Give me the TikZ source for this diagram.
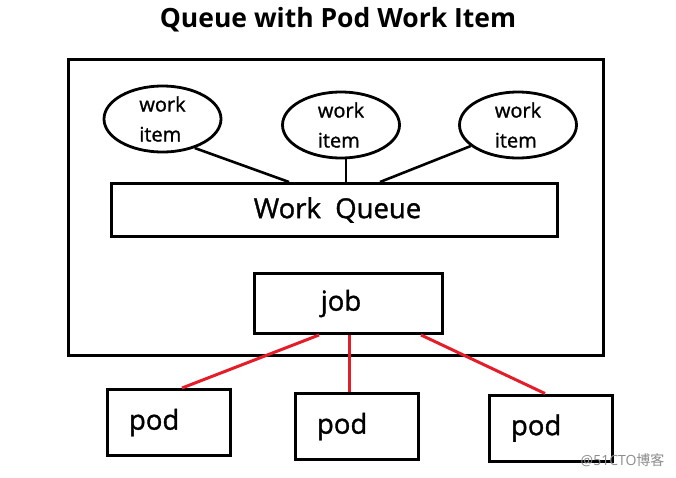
\documentclass[tikz,border=0pt]{standalone}
\usepackage{fontspec}
\setmainfont{Open Sans}
\newfontfamily\medfont[FakeBold=1.2]{Open Sans}
\newfontfamily\cjkfont{Noto Sans CJK SC}
\usetikzlibrary{shapes.geometric}
\definecolor{redline}{RGB}{228,30,40}
\definecolor{wmgrey}{RGB}{140,140,140}
\tikzset{
  thickbox/.style={draw=black, line width=3pt, rectangle, inner sep=0pt},
  itemell/.style={draw=black, line width=2.8pt, ellipse, inner sep=0pt,
    minimum width=117pt, minimum height=66pt, align=left,
    font=\medfont\fontsize{20}{30}\selectfont},
  link/.style={draw=black, line width=2.6pt},
  redlink/.style={draw=redline, line width=3pt},
  bigtxt/.style={font=\medfont\fontsize{27.5}{30}\selectfont},
}
\begin{document}
\begin{tikzpicture}[x=1pt,y=-1pt]
\useasboundingbox (0,0) rectangle (676,477);
\fill[white] (0,0) rectangle (676,477);
% title
\node[font=\bfseries\fontsize{26.5}{28}\selectfont] (title) at (338,20) {Queue with Pod Work Item};
% outer box
\node[thickbox, minimum width=535pt, minimum height=296pt] (outer) at (336,207.5) {};
% ellipses
\node[itemell] (e1) at (162.5,119) {work\\item};
\node[itemell] (e2) at (341,125) {work\\item};
\node[itemell] (e3) at (518,125) {work\\item};
% work queue
\node[thickbox, minimum width=446pt, minimum height=53pt, bigtxt] (wq) at (334.5,210) {\hspace*{6pt}Work\ \ Queue};
% job
\node[thickbox, minimum width=188pt, minimum height=60pt, bigtxt] (job) at (348,303.5) {\hspace*{-14pt}job};
% pods
\node[thickbox, minimum height=66pt, text width=80pt, inner xsep=21.5pt, align=left, bigtxt] (p1) at (169,422.5) {pod};
\node[thickbox, minimum height=66pt, text width=80pt, inner xsep=21.5pt, align=left, bigtxt] (p2) at (357,426.5) {pod};
\node[thickbox, minimum height=66pt, text width=80pt, inner xsep=21.5pt, align=left, bigtxt] (p3) at (551,428) {pod};
% connector end points
\coordinate (q1) at (289,182);
\coordinate (q2) at (346,182);
\coordinate (q3) at (380,182);
\draw[link] (e1.-42) -- (q1);
\draw[link] (q2 |- e2.south) -- (q2);
\draw[link] (e3.-156) -- (q3);
% red connectors
\coordinate (j1) at (319,335);
\coordinate (j2) at (349,335);
\coordinate (j3) at (421,335);
\draw[redlink] (j1) -- (182,0 |- p1.north);
\draw[redlink] (j2) -- (349,0 |- p2.north);
\draw[redlink] (j3) -- (545,0 |- p3.north);
% watermark
\node[text=wmgrey, font=\fontsize{14}{16}\selectfont, anchor=east] (wm) at (668,460) {@51CTO{\cjkfont 博客}};
\end{tikzpicture}
\end{document}
